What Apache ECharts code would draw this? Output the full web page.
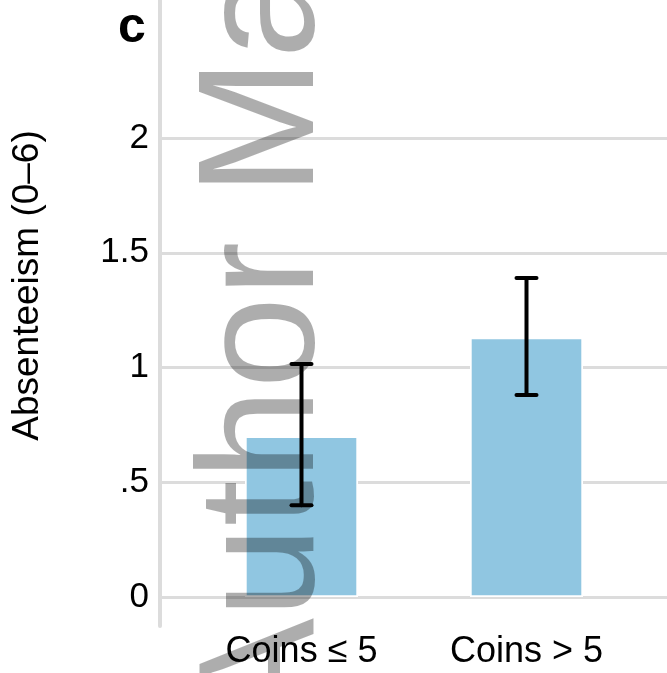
<!DOCTYPE html>
<html>
<head>
<meta charset="utf-8">
<script src="https://cdn.jsdelivr.net/npm/echarts@6/dist/echarts.min.js"></script>
<style>
  html, body { margin: 0; padding: 0; background: #fff; }
  #chart { width: 667px; height: 673px; }
</style>
</head>
<body>
<div id="chart"></div>
<script>
// data
var categories = ['Coins \u2264 5', 'Coins > 5'];
var means = [0.70, 1.13];
var ciLow = [0.40, 0.88];
var ciHigh = [1.015, 1.39];
var yTicks = [0, 0.5, 1, 1.5, 2];

var font = '"Liberation Sans", Arial, Helvetica, sans-serif';
var gridGray = '#dcdcdc';

var chart = echarts.init(document.getElementById('chart'));

// error bars: [category index, low, high]
var errData = categories.map(function (c, i) {
  return [i, ciLow[i], ciHigh[i]];
});

function tickText(v) {
  if (yTicks.indexOf(v) < 0) return '';
  return v === 0 ? '0' : String(v).replace(/^0\./, '.');
}

var option = {
  animation: false,
  backgroundColor: '#fff',
  title: {
    text: 'c',
    left: 118,
    top: 3,
    padding: 0,
    textStyle: { fontFamily: font, fontWeight: 'bold', fontSize: 50, color: '#000' }
  },
  grid: [
    // gridlines + tick labels, full width
    { left: 160, right: 0, top: 138, bottom: 76 },
    // the long vertical axis line
    { left: 160, right: 0, top: 0, bottom: 47 },
    // bars
    { left: 189, right: 28, top: 138, bottom: 76 }
  ],
  xAxis: [
    { gridIndex: 0, type: 'value', show: false },
    { gridIndex: 1, type: 'value', show: false },
    {
      gridIndex: 2,
      type: 'category',
      data: categories,
      axisLine: { show: false },
      axisTick: { show: false },
      axisLabel: {
        margin: 37,
        color: '#000',
        fontFamily: font,
        fontSize: 36
      }
    }
  ],
  yAxis: [
    {
      gridIndex: 0,
      type: 'value',
      min: 0,
      max: 2,
      interval: 0.5,
      axisLine: { show: false },
      axisTick: { show: false },
      axisLabel: {
        margin: 11,
        color: '#000',
        fontFamily: font,
        fontSize: 35,
        formatter: tickText
      },
      splitLine: { lineStyle: { color: gridGray, width: 3 } }
    },
    {
      gridIndex: 1,
      type: 'value',
      axisLine: { show: true, lineStyle: { color: gridGray, width: 4 } },
      axisTick: { show: false },
      axisLabel: { show: false },
      splitLine: { show: false },
      name: 'Absenteeism (0\u20136)',
      nameLocation: 'middle',
      nameRotate: 90,
      nameGap: 114,
      nameTextStyle: {
        color: '#000',
        fontFamily: font,
        fontSize: 37,
        padding: [0, 0, 0, 55]
      }
    },
    { gridIndex: 2, type: 'value', min: 0, max: 2, show: false }
  ],
  graphic: [
    {
      // watermark, dark translucent so it darkens whatever lies under it
      type: 'text',
      x: 267,
      y: 728,
      rotation: Math.PI / 2,
      z: 100,
      silent: true,
      style: {
        text: 'Author Manuscript',
        font: '165px ' + font,
        fill: 'rgba(0,0,0,0.32)',
        align: 'left',
        verticalAlign: 'middle'
      }
    }
  ],
  series: [
    {
      type: 'bar',
      xAxisIndex: 2,
      yAxisIndex: 2,
      data: means,
      barWidth: 113,
      itemStyle: { color: '#90c6e1', borderColor: '#fff', borderWidth: 1.7 }
    },
    {
      type: 'custom',
      xAxisIndex: 2,
      yAxisIndex: 2,
      data: errData,
      z: 10,
      renderItem: function (params, api) {
        var lo = api.coord([api.value(0), api.value(1)]);
        var hi = api.coord([api.value(0), api.value(2)]);
        var half = 10;
        var st = { stroke: '#000', lineWidth: 4, lineCap: 'round' };
        return {
          type: 'group',
          children: [
            { type: 'line', shape: { x1: hi[0], y1: hi[1], x2: lo[0], y2: lo[1] }, style: st },
            { type: 'line', shape: { x1: hi[0] - half, y1: hi[1], x2: hi[0] + half, y2: hi[1] }, style: st },
            { type: 'line', shape: { x1: lo[0] - half, y1: lo[1], x2: lo[0] + half, y2: lo[1] }, style: st }
          ]
        };
      }
    }
  ]
};

chart.setOption(option);
</script>
</body>
</html>
